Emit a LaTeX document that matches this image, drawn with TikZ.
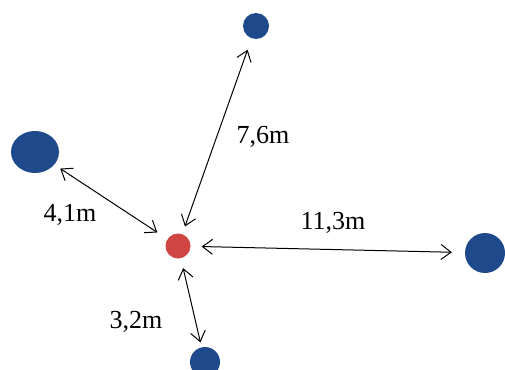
\documentclass[tikz,border=0pt]{standalone}
\usepackage{fontspec}
\setmainfont{Liberation Serif}
\usetikzlibrary{arrows.meta,shapes.geometric}
\definecolor{dotblue}{RGB}{30,74,140}
\definecolor{dotred}{RGB}{208,68,68}
\begin{document}
\begin{tikzpicture}[x=1pt,y=-1pt,
  bluedot/.style={circle,fill=dotblue,draw=none,inner sep=0pt},
  reddot/.style={circle,fill=dotred,draw=none,inner sep=0pt,minimum size=25pt},
  dim/.style={{Straight Barb[length=10pt,width=15pt]}-{Straight Barb[length=10pt,width=15pt]},line width=1pt,black},
  lbl/.style={font=\fontsize{26}{29}\selectfont,inner sep=0pt}]
\useasboundingbox (0,0) rectangle (505,369);
\clip (0,0) rectangle (505,369);
\node[reddot] (red) at (178,246) {};
\node[bluedot,minimum size=26pt] (top) at (256,26) {};
\node[ellipse,fill=dotblue,inner sep=0pt,minimum width=48pt,minimum height=42pt] (left) at (35,152) {};
\node[bluedot,minimum size=40pt] (right) at (485,253) {};
\node[bluedot,minimum size=30pt] (bottom) at (205,362) {};
\draw[dim,shorten <=8pt,shorten >=12pt] (red) -- (top);
\draw[dim,shorten <=12pt,shorten >=7pt] (red) -- (left);
\draw[dim,shorten <=11pt,shorten >=13pt] (red) -- (right);
\draw[dim,shorten <=10pt,shorten >=5pt] (red) -- (bottom);
\node[lbl] (l1) at (263,137) {7,6m};
\node[lbl] (l2) at (70,215) {4,1m};
\node[lbl] (l3) at (333,223) {11,3m};
\node[lbl] (l4) at (136,322) {3,2m};
\end{tikzpicture}
\end{document}
